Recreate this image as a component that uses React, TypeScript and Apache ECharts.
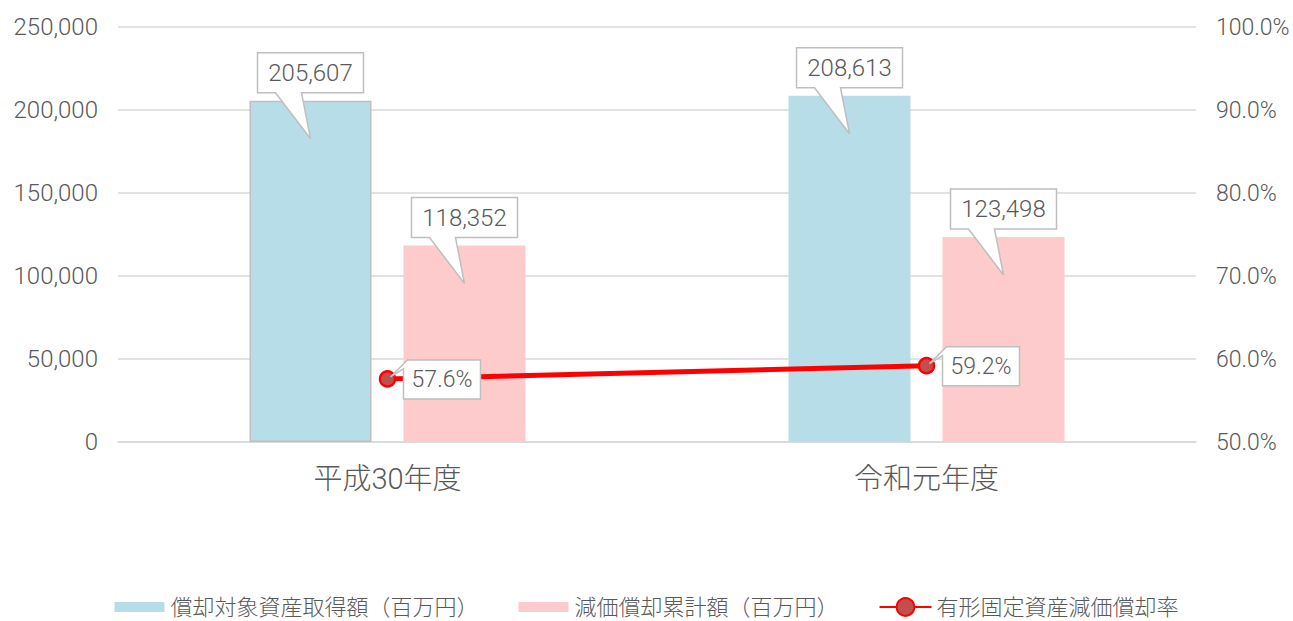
import React, { useEffect, useRef } from "react";
import * as echarts from "echarts";

const categories = ["平成30年度", "令和元年度"];
const acquisitionCost = [205607, 208613];
const accumulatedDepreciation = [118352, 123498];
const depreciationRate = [57.6, 59.2];
const seriesNames = [
  "償却対象資産取得額（百万円）",
  "減価償却累計額（百万円）",
  "有形固定資産減価償却率",
];

const BAR_W = 122;
const BAR_GAP = 32;
const FONT = "Roboto, 'Noto Sans CJK JP', sans-serif";
const TEXT_COLOR = "#595959";
const RECT_ICON =
  "path://M0,0L0.01,0L0.01,0.01Z M0,6L50,6L50,16L0,16Z M0,22L0.01,22L0.01,21.99Z";

function barCallout(side: number, data: number[]) {
  return {
    type: "custom",
    xAxisIndex: 0,
    yAxisIndex: 0,
    silent: true,
    z: 10,
    data: data.map((v, i) => [i, v]),
    renderItem: (params: any, api: any) => {
      const pt = api.coord([api.value(0), api.value(1)]);
      const cx = pt[0] + side * (BAR_W + BAR_GAP) / 2;
      const ty = pt[1];
      const w = 106;
      const h = 40;
      const bx = cx - w / 2;
      const bb = ty - 8;
      const bt = bb - h;
      const points = [
        [bx, bt],
        [bx + w, bt],
        [bx + w, bb],
        [cx - 9, bb],
        [cx, ty + 38],
        [cx - 35, bb],
        [bx, bb],
      ];
      const val = api.value(1);
      return {
        type: "group",
        children: [
          {
            type: "polygon",
            shape: { points },
            style: { fill: "#ffffff", stroke: "#bfbfbf", lineWidth: 1.5 },
          },
          {
            type: "text",
            x: cx,
            y: bt + h / 2,
            style: {
              text: val.toLocaleString("en-US"),
              fill: TEXT_COLOR,
              font: `300 24px ${FONT}`,
              align: "center",
              verticalAlign: "middle",
            },
          },
        ],
      };
    },
  };
}

function lineCallout(data: number[]) {
  return {
    type: "custom",
    xAxisIndex: 0,
    yAxisIndex: 1,
    silent: true,
    z: 10,
    data: data.map((v, i) => [i, v]),
    renderItem: (params: any, api: any) => {
      const pt = api.coord([api.value(0), api.value(1)]);
      const px = pt[0];
      const py = pt[1];
      const l = px + 16;
      const r = px + 93;
      const t = py - 19;
      const b = py + 20;
      const points = [
        [px + 27, t],
        [r, t],
        [r, b],
        [l, b],
        [l, py - 10],
        [px + 3, py - 2],
        [px + 20, t],
      ];
      const val = api.value(1);
      return {
        type: "group",
        children: [
          {
            type: "polygon",
            shape: { points },
            style: { fill: "#ffffff", stroke: "#bfbfbf", lineWidth: 1.5 },
          },
          {
            type: "text",
            x: (l + r) / 2,
            y: (t + b) / 2,
            style: {
              text: val.toFixed(1) + "%",
              fill: TEXT_COLOR,
              font: `300 23px ${FONT}`,
              align: "center",
              verticalAlign: "middle",
            },
          },
        ],
      };
    },
  };
}

export default function App() {
  const ref = useRef<HTMLDivElement>(null);
  useEffect(() => {
    if (!ref.current) return;
    const chart = echarts.init(ref.current, undefined, { renderer: "svg" });
    chart.setOption({
      animation: false,
      backgroundColor: "#ffffff",
      grid: { left: 118, right: 97, top: 27, bottom: 179, containLabel: false },
      legend: {
        top: 591,
        left: "center",
        itemGap: 40,
        itemWidth: 52,
        itemHeight: 22,
        textStyle: { color: TEXT_COLOR, fontSize: 22, fontFamily: FONT, fontWeight: 300 },
        data: [
          { name: seriesNames[0], icon: RECT_ICON },
          { name: seriesNames[1], icon: RECT_ICON },
          { name: seriesNames[2] },
        ],
      },
      xAxis: {
        type: "category",
        data: categories,
        axisLine: { lineStyle: { color: "#d9d9d9", width: 1.5 } },
        axisTick: { show: false },
        axisLabel: {
          color: TEXT_COLOR,
          fontSize: 29,
          fontFamily: FONT,
          fontWeight: 300,
          margin: 22,
        },
      },
      yAxis: [
        {
          type: "value",
          min: 0,
          max: 250000,
          interval: 50000,
          axisLine: { show: false },
          axisTick: { show: false },
          splitLine: { lineStyle: { color: "#d9d9d9", width: 1.5 } },
          axisLabel: {
            color: TEXT_COLOR,
            fontSize: 24,
            fontFamily: FONT,
            fontWeight: 300,
            margin: 20,
            formatter: (v: number) => v.toLocaleString("en-US"),
          },
        },
        {
          type: "value",
          min: 50,
          max: 100,
          interval: 10,
          axisLine: { show: false },
          axisTick: { show: false },
          splitLine: { show: false },
          axisLabel: {
            color: TEXT_COLOR,
            fontSize: 23,
            fontFamily: FONT,
            fontWeight: 300,
            margin: 20,
            formatter: (v: number) => v.toFixed(1) + "%",
          },
        },
      ],
      series: [
        {
          name: seriesNames[0],
          type: "bar",
          barWidth: BAR_W,
          barGap: `${(BAR_GAP / BAR_W) * 100}%`,
          itemStyle: { color: "#b7dde8" },
          data: acquisitionCost.map((v, i) =>
            i === 0
              ? { value: v, itemStyle: { borderColor: "#bfbfbf", borderWidth: 1.5 } }
              : v
          ),
        },
        {
          name: seriesNames[1],
          type: "bar",
          barWidth: BAR_W,
          itemStyle: { color: "#fdcbcb" },
          data: accumulatedDepreciation,
        },
        {
          name: seriesNames[2],
          type: "line",
          yAxisIndex: 1,
          data: depreciationRate,
          lineStyle: { color: "#ff0000", width: 5 },
          symbol: "circle",
          symbolSize: 15,
          itemStyle: { color: "#c0504d", borderColor: "#ff0000", borderWidth: 2.5 },
          z: 5,
        },
        barCallout(-1, acquisitionCost),
        barCallout(1, accumulatedDepreciation),
        lineCallout(depreciationRate),
      ],
    });
    return () => chart.dispose();
  }, []);
  return <div ref={ref} style={{ width: 1293, height: 621, position: "absolute", left: 0, top: 0 }} />;
}
